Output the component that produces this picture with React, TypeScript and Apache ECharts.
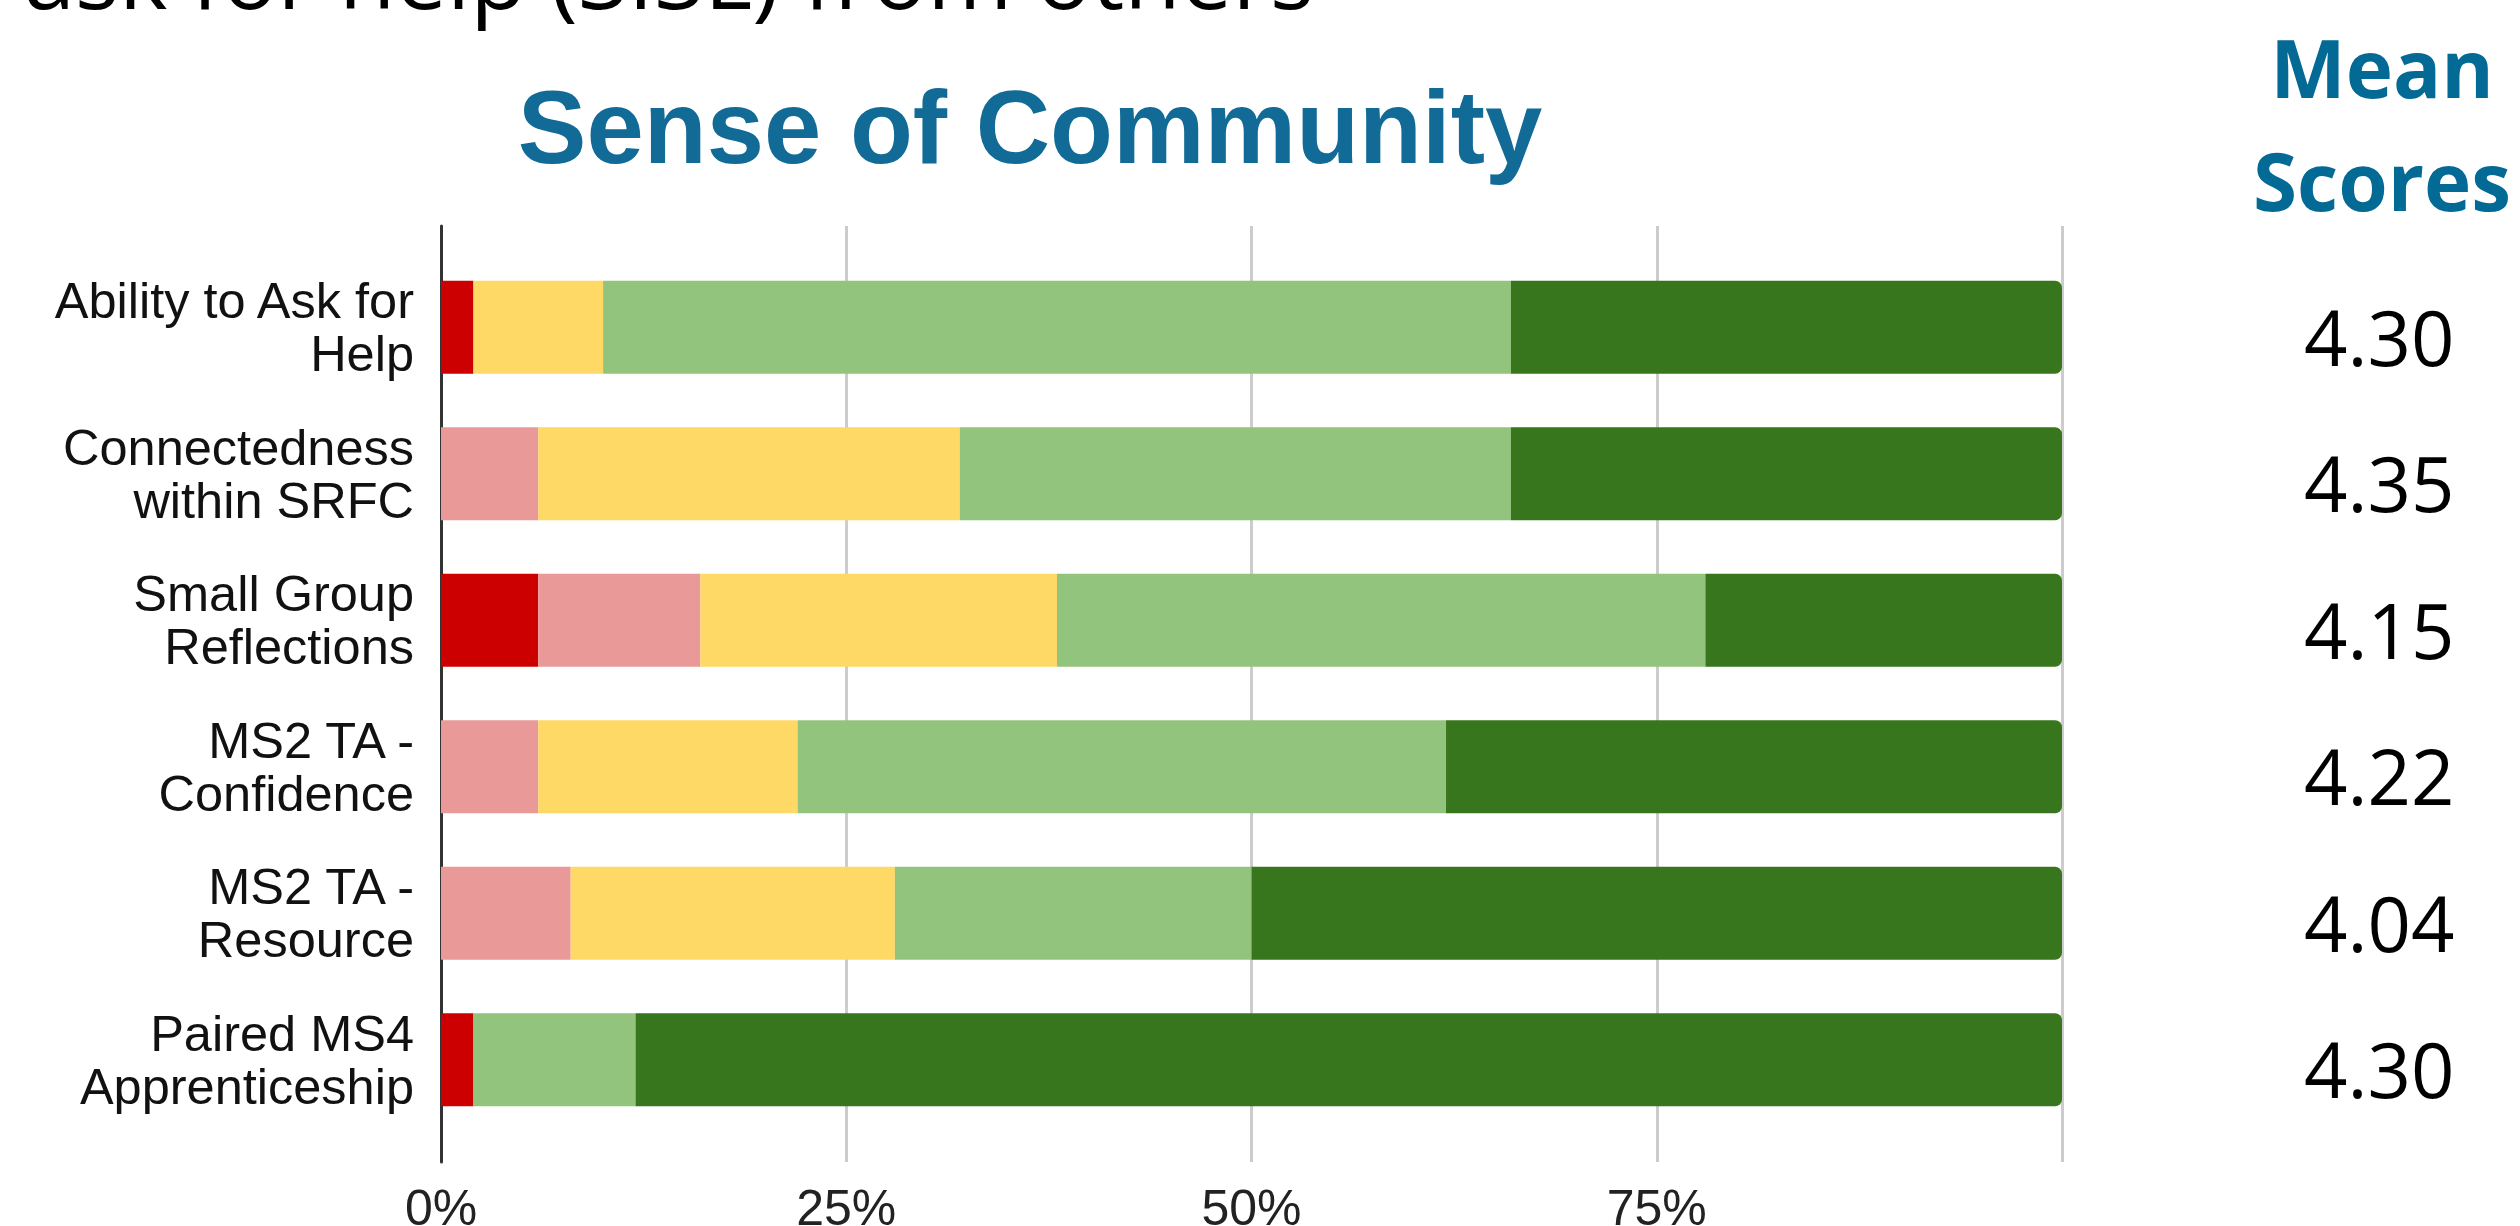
import React, { useEffect, useRef } from "react";
import * as echarts from "echarts";

const categories = [
  "Ability to Ask for\nHelp",
  "Connectedness\nwithin SRFC",
  "Small Group\nReflections",
  "MS2 TA -\nConfidence",
  "MS2 TA -\nResource",
  "Paired MS4\nApprenticeship",
];
const stronglyDisagree = [2, 0, 6, 0, 0, 2];
const disagree = [0, 6, 10, 6, 8, 0];
const neutral = [8, 26, 22, 16, 20, 0];
const agree = [56, 34, 40, 40, 22, 10];
const stronglyAgree = [34, 34, 22, 38, 50, 88];
const meanScores = ["4.30", "4.35", "4.15", "4.22", "4.04", "4.30"];
const xTicks = [0, 25, 50, 75, 100];
const shownTickLabels = ["0%", "25%", "50%", "75%", ""];

const seriesDefs = [
  { name: "Strongly Disagree", data: stronglyDisagree, color: "#cc0000" },
  { name: "Disagree", data: disagree, color: "#ea9999" },
  { name: "Neutral", data: neutral, color: "#ffd966" },
  { name: "Agree", data: agree, color: "#93c47d" },
  { name: "Strongly Agree", data: stronglyAgree, color: "#38761d" },
];

const ARIAL = "'Liberation Sans', Arial, sans-serif";
const SANS = "'Open Sans', 'Noto Sans', sans-serif";

export default function App() {
  const ref = useRef<HTMLDivElement>(null);
  useEffect(() => {
    if (!ref.current) return;
    const chart = echarts.init(ref.current, undefined, { renderer: "svg" });
    const option: any = {
      animation: false,
      backgroundColor: "#ffffff",
      grid: [
        { left: 441, right: 458, top: 254, bottom: 93, containLabel: false, outerBoundsMode: "none" },
        { left: 441, right: 458, top: 226, bottom: 64, containLabel: false, outerBoundsMode: "none" },
      ],
      xAxis: [
        { type: "value", gridIndex: 0, min: 0, max: 100, show: false },
        {
          type: "value",
          gridIndex: 1,
          min: 0,
          max: 100,
          interval: 25,
          axisLine: { show: false },
          axisTick: { show: false },
          splitLine: { show: true, lineStyle: { color: "#cccccc", width: 3 } },
          axisLabel: {
            margin: 21,
            fontSize: 50,
            fontFamily: ARIAL,
            color: "#222222",
            formatter: (v: number) => shownTickLabels[xTicks.indexOf(v)] ?? "",
          },
        },
      ],
      yAxis: [
        {
          type: "category",
          gridIndex: 0,
          data: categories,
          inverse: true,
          axisLine: { show: false },
          axisTick: { show: false },
          axisLabel: {
            margin: 27,
            fontSize: 50.5,
            lineHeight: 53,
            fontFamily: ARIAL,
            color: "#111111",
            align: "right",
          },
        },
        {
          type: "category",
          gridIndex: 0,
          data: meanScores,
          inverse: true,
          position: "right",
          axisLine: { show: false },
          axisTick: { show: false },
          axisLabel: {
            margin: 242,
            fontSize: 76,
            fontFamily: SANS,
            color: "#000000",
            verticalAlign: "top",
            lineHeight: 18,
          },
        },
        {
          type: "value",
          gridIndex: 1,
          min: 0,
          max: 1,
          axisLine: { show: true, lineStyle: { color: "#333333", width: 3 } },
          axisTick: { show: false },
          axisLabel: { show: false },
          splitLine: { show: false },
        },
      ],
      series: seriesDefs.map((s, i) => ({
        name: s.name,
        type: "bar",
        stack: "total",
        xAxisIndex: 0,
        yAxisIndex: 0,
        barWidth: 93,
        data: s.data,
        itemStyle: {
          color: s.color,
          borderRadius: i === seriesDefs.length - 1 ? [0, 7, 7, 0] : 0,
        },
        emphasis: { disabled: true },
      })),
      graphic: [
        {
          type: "text",
          x: 24,
          y: -27,
          style: {
            text: "ask for help (SISL) from others",
            fontSize: 92,
            fontFamily: SANS,
            fill: "#000000",
            align: "left",
            verticalAlign: "middle",
          },
        },
        {
          type: "text",
          x: 1030,
          y: 127,
          style: {
            text: "Sense of Community",
            fontSize: 103,
            fontWeight: "bold",
            fontFamily: ARIAL,
            fill: "#126a96",
            align: "center",
            verticalAlign: "middle",
          },
        },
        {
          type: "text",
          x: 2382,
          y: 66,
          style: {
            text: "Mean",
            fontSize: 80,
            fontWeight: "bold",
            fontFamily: SANS,
            fill: "#036a96",
            align: "center",
            verticalAlign: "middle",
          },
        },
        {
          type: "text",
          x: 2382,
          y: 179,
          style: {
            text: "Scores",
            fontSize: 80,
            fontWeight: "bold",
            fontFamily: SANS,
            fill: "#036a96",
            align: "center",
            verticalAlign: "middle",
          },
        },
      ],
    };
    chart.setOption(option);
    return () => chart.dispose();
  }, []);
  return (
    <div
      ref={ref}
      style={{ position: "fixed", left: 0, top: 0, width: 2520, height: 1226, background: "#fff" }}
    />
  );
}
